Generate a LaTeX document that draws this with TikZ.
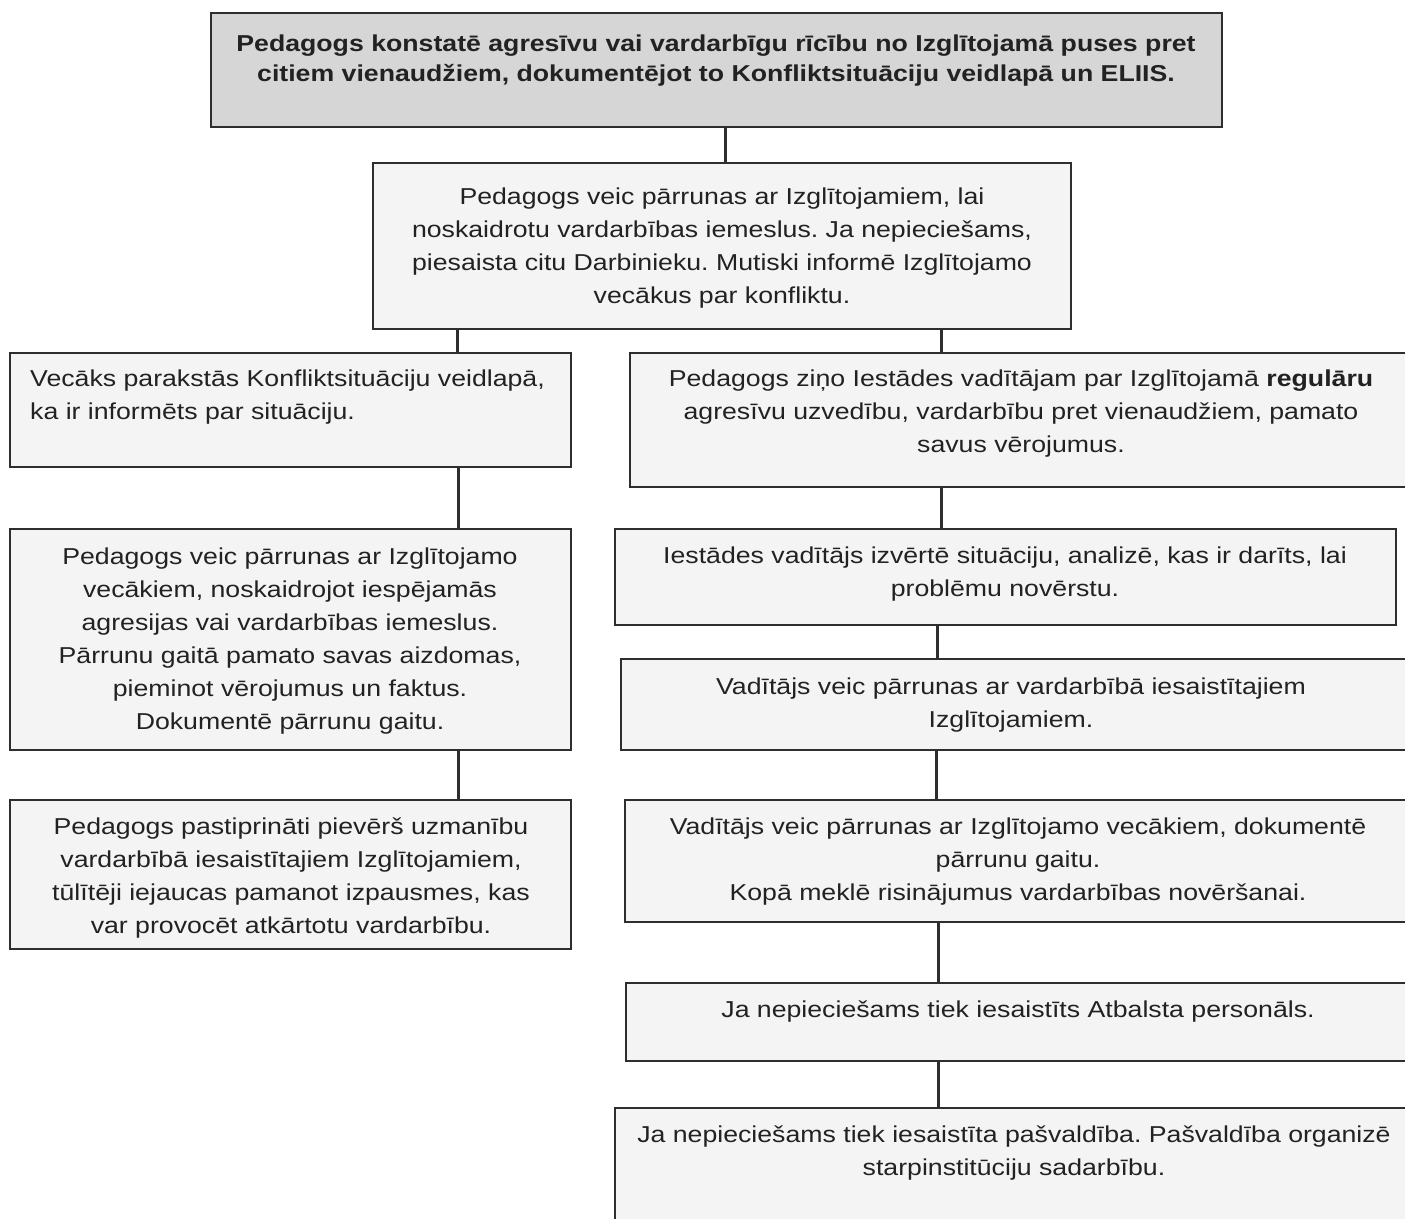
\documentclass[tikz,border=0pt]{standalone}
\usepackage{fontspec}
\setmainfont{Liberation Sans}[FakeStretch=1.16]
\usetikzlibrary{calc}
\frenchspacing
\definecolor{ink}{HTML}{222222}
\definecolor{edge}{HTML}{2E2E2E}
\definecolor{topfill}{HTML}{D6D6D6}
\definecolor{boxfill}{HTML}{F4F4F4}
\tikzset{
  box/.style={draw=edge, line width=2pt, fill=boxfill, rectangle, inner sep=0pt},
  topbox/.style={box, fill=topfill},
  conn/.style={draw=edge, line width=3pt},
  txt/.style={text=ink, inner sep=0pt, font=\frenchspacing\fontsize{23}{33}\selectfont},
  ctxt/.style={txt, align=center, anchor=base},
  ltxt/.style={txt, align=left, anchor=base west},
  btxt/.style={ctxt, font=\frenchspacing\fontsize{23}{30}\selectfont\bfseries}
}
\begin{document}
\begin{tikzpicture}[x=1pt,y=-1pt]
\useasboundingbox (0,0) rectangle (1405,1218);
\fill[white] (0,0) rectangle (1405,1218);
\begin{scope}
\clip (0,0) rectangle (1405,1218);
% boxes
\node[topbox, minimum width=1011pt, minimum height=114pt] (top) at (716.5,70) {};
\node[box, minimum width=698pt, minimum height=166pt] (b2) at (722,246) {};
\node[box, minimum width=561pt, minimum height=114pt] (l1) at (290.5,410) {};
\node[box, minimum width=790pt, minimum height=134pt] (r1) at (1025,420) {};
\node[box, minimum width=561pt, minimum height=221pt] (l2) at (290.5,639.5) {};
\node[box, minimum width=561pt, minimum height=149pt] (l3) at (290.5,874.5) {};
\node[box, minimum width=781pt, minimum height=96pt] (r2) at (1005.5,577) {};
\node[box, minimum width=799pt, minimum height=91pt] (r3) at (1020.5,704.5) {};
\node[box, minimum width=795pt, minimum height=122pt] (r4) at (1022.5,861) {};
\node[box, minimum width=794pt, minimum height=78pt] (r5) at (1023,1022) {};
\node[box, minimum width=805pt, minimum height=132pt] (r6) at (1017.5,1174) {};
% connectors
\draw[conn] ([xshift=8.5pt]top.south) -- ([xshift=8.5pt]top.south |- b2.north);
\draw[conn] ([xshift=-265pt]b2.south) -- ([xshift=-265pt]b2.south |- l1.north);
\draw[conn] ([xshift=219pt]b2.south) -- ([xshift=219pt]b2.south |- r1.north);
\draw[conn] ([xshift=167.5pt]l1.south) -- ([xshift=167.5pt]l1.south |- l2.north);
\draw[conn] ([xshift=167.5pt]l2.south) -- ([xshift=167.5pt]l2.south |- l3.north);
\draw[conn] ([xshift=-84pt]r1.south) -- ([xshift=-84pt]r1.south |- r2.north);
\draw[conn] ([xshift=-68.5pt]r2.south) -- ([xshift=-68.5pt]r2.south |- r3.north);
\draw[conn] ([xshift=-84.5pt]r3.south) -- ([xshift=-84.5pt]r3.south |- r4.north);
\draw[conn] ([xshift=-84.5pt]r4.south) -- ([xshift=-84.5pt]r4.south |- r5.north);
\draw[conn] ([xshift=-85pt]r5.south) -- ([xshift=-85pt]r5.south |- r6.north);
% texts (anchored at the baseline of the last line)
\node[btxt] (ttop) at (716,81) {Pedagogs konstatē agresīvu vai vardarbīgu rīcību no Izglītojamā puses pret\\citiem vienaudžiem, dokumentējot to Konfliktsituāciju veidlapā un ELIIS.};
\node[ctxt] (tb2) at (722,303) {Pedagogs veic pārrunas ar Izglītojamiem, lai\\noskaidrotu vardarbības iemeslus. Ja nepieciešams,\\piesaista citu Darbinieku. Mutiski informē Izglītojamo\\vecākus par konfliktu.};
\node[ltxt] (tl1) at (30,419) {Vecāks parakstās Konfliktsituāciju veidlapā,\\ka ir informēts par situāciju.};
\node[ctxt] (tr1) at (1021,452) {Pedagogs ziņo Iestādes vadītājam par Izglītojamā \textbf{regulāru}\\agresīvu uzvedību, vardarbību pret vienaudžiem, pamato\\savus vērojumus.};
\node[ctxt] (tl2) at (290,729) {Pedagogs veic pārrunas ar Izglītojamo\\vecākiem, noskaidrojot iespējamās\\agresijas vai vardarbības iemeslus.\\Pārrunu gaitā pamato savas aizdomas,\\pieminot vērojumus un faktus.\\Dokumentē pārrunu gaitu.};
\node[ctxt] (tl3) at (291,933) {Pedagogs pastiprināti pievērš uzmanību\\vardarbībā iesaistītajiem Izglītojamiem,\\tūlītēji iejaucas pamanot izpausmes, kas\\var provocēt atkārtotu vardarbību.};
\node[ctxt] (tr2) at (1005,596) {Iestādes vadītājs izvērtē situāciju, analizē, kas ir darīts, lai\\problēmu novērstu.};
\node[ctxt] (tr3) at (1011,727) {Vadītājs veic pārrunas ar vardarbībā iesaistītajiem\\Izglītojamiem.};
\node[ctxt] (tr4) at (1018,900) {Vadītājs veic pārrunas ar Izglītojamo vecākiem, dokumentē\\pārrunu gaitu.\\Kopā meklē risinājumus vardarbības novēršanai.};
\node[ctxt] (tr5) at (1018,1017) {Ja nepieciešams tiek iesaistīts Atbalsta personāls.};
\node[ctxt] (tr6) at (1014,1175) {Ja nepieciešams tiek iesaistīta pašvaldība. Pašvaldība organizē\\starpinstitūciju sadarbību.};
\end{scope}
\end{tikzpicture}
\end{document}
